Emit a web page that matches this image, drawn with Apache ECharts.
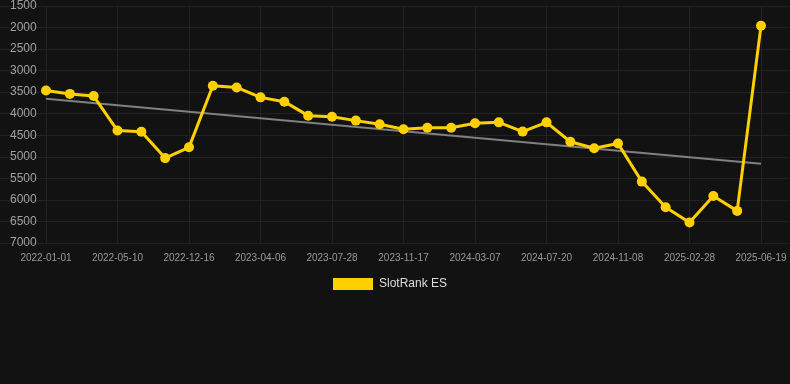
<!DOCTYPE html>
<html>
<head>
<meta charset="utf-8">
<script src="https://cdn.jsdelivr.net/npm/echarts@6/dist/echarts.min.js"></script>
<style>html,body{margin:0;padding:0;background:#121212;}#c{width:790px;height:384px;}</style>
</head>
<body>
<div id="c"></div>
<script>
const categories = [
  '2022-01-01','2022-02-13','2022-03-28','2022-05-10','2022-07-22','2022-10-03',
  '2022-12-16','2023-01-22','2023-02-28','2023-04-06','2023-05-13','2023-06-20',
  '2023-07-28','2023-09-04','2023-10-11','2023-11-17','2023-12-24','2024-01-30',
  '2024-03-07','2024-04-21','2024-06-05','2024-07-20','2024-08-26','2024-10-02',
  '2024-11-08','2024-12-15','2025-01-21','2025-02-28','2025-04-06','2025-05-13',
  '2025-06-19'
];
const rankValues = [
  3460, 3540, 3590, 4390, 4420, 5030,
  4780, 3350, 3390, 3620, 3720, 4045,
  4070, 4160, 4245, 4360, 4325, 4325,
  4220, 4200, 4415, 4200, 4650, 4800,
  4690, 5575, 6170, 6525, 5910, 6255,
  1960
];
const trendStart = 3655;
const trendEnd = 5160;
const yTicks = { min: 1500, max: 7000, step: 500 };

const trendData = categories.map((c, i) => i === 0 ? trendStart : (i === categories.length - 1 ? trendEnd : null));

const chart = echarts.init(document.getElementById('c'), null, { renderer: 'canvas' });
chart.setOption({
  backgroundColor: '#121212',
  animation: false,
  grid: [
    { left: 0, right: 0, top: 6, bottom: 141, containLabel: false },
    { left: 46, right: 29, top: 6, bottom: 141, containLabel: false }
  ],
  legend: {
    data: ['SlotRank ES'],
    top: 273,
    left: 328,
    itemWidth: 40,
    itemHeight: 12,
    itemGap: 10,
    icon: 'rect',
    textStyle: { color: '#dddddd', fontSize: 12, padding: [0, 0, 0, 1], fontFamily: 'Liberation Sans, Arial, sans-serif' }
  },
  xAxis: [
    { gridIndex: 0, type: 'value', min: 0, max: 1, show: false },
    {
      gridIndex: 1, type: 'category', data: categories, boundaryGap: false,
      axisLine: { show: false }, axisTick: { show: false },
      axisLabel: { interval: 2, color: '#999999', fontSize: 10, margin: 10, fontFamily: 'Liberation Sans, Arial, sans-serif' },
      splitLine: { show: true, interval: 2, lineStyle: { color: '#222222', width: 1 } }
    }
  ],
  yAxis: [
    {
      gridIndex: 0, type: 'value', inverse: true, min: yTicks.min, max: yTicks.max, interval: yTicks.step,
      axisLine: { show: false }, axisTick: { show: false },
      axisLabel: { inside: true, margin: 10, color: '#a0a0a0', fontSize: 12, formatter: v => String(v), fontFamily: 'Liberation Sans, Arial, sans-serif' },
      splitLine: { show: true, lineStyle: { color: '#222222', width: 1 } }
    },
    {
      gridIndex: 1, type: 'value', inverse: true, min: yTicks.min, max: yTicks.max, interval: yTicks.step,
      show: false, splitLine: { show: false }
    }
  ],
  series: [
    {
      name: 'Trend', type: 'line', xAxisIndex: 1, yAxisIndex: 1,
      data: trendData, connectNulls: true, symbol: 'none',
      lineStyle: { color: '#808080', width: 2 }, z: 1, silent: true
    },
    {
      name: 'SlotRank ES', type: 'line', xAxisIndex: 1, yAxisIndex: 1,
      data: rankValues, symbol: 'circle', symbolSize: 10,
      itemStyle: { color: '#FFD000' },
      lineStyle: { color: '#FFD000', width: 3 }, z: 2
    }
  ]
});
</script>
</body>
</html>
